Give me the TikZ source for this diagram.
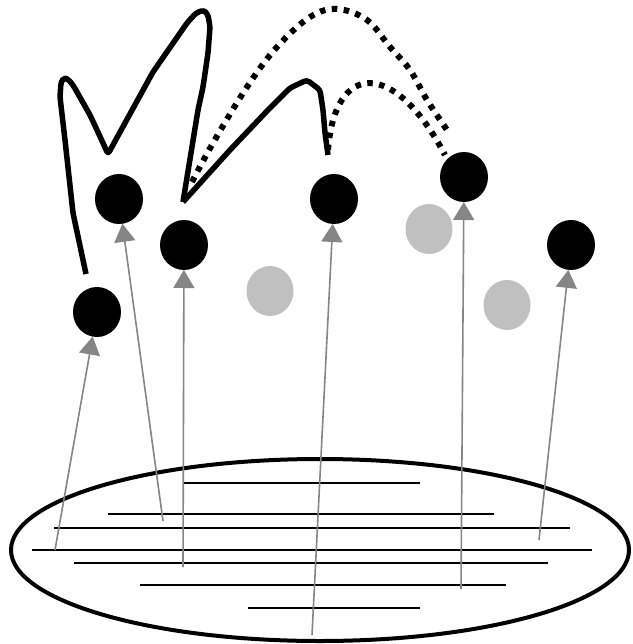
\documentclass[tikz,border=0pt]{standalone}
\usetikzlibrary{arrows.meta,shapes.geometric}
\definecolor{nodegray}{HTML}{C0C0C0}
\definecolor{arrgray}{HTML}{858585}
\begin{document}
\begin{tikzpicture}[x=1pt,y=-1pt,
  blk/.style={ellipse,fill=black,minimum width=48pt,minimum height=50pt,inner sep=0pt,outer sep=0pt},
  gry/.style={ellipse,fill=nodegray,minimum width=47pt,minimum height=50pt,inner sep=0pt},
  arr/.style={draw=arrgray,line width=1.6pt,-{Triangle[length=18pt,width=21pt]},fill=arrgray},
  hline/.style={line width=1.8pt},
  thick path/.style={line width=5.5pt,line join=round,rounded corners=3pt},
  dots/.style={line width=6pt,dash pattern=on 5.5pt off 6.5pt}]
\useasboundingbox (0,0) rectangle (632,644);
% base ellipse
\draw[line width=4pt] (320,550) ellipse [x radius=309pt, y radius=91pt];
\draw[hline] (183,483) -- (420,483);
\draw[hline] (108,514) -- (494,514);
\draw[hline] (54,528) -- (570,528);
\draw[hline] (32,550) -- (592,550);
\draw[hline] (74,563) -- (548,563);
\draw[hline] (140,585) -- (506,585);
\draw[hline] (248,608) -- (420,608);
% gray nodes
\node[gry] (g1) at (270,291) {};
\node[gry] (g2) at (429,229) {};
\node[gry] (g3) at (507,305) {};
% black nodes
\node[blk] (A) at (119,199) {};
\node[blk] (B) at (184,245) {};
\node[blk] (C) at (97,312) {};
\node[blk] (D) at (334,199) {};
\node[blk] (E) at (464,177) {};
\node[blk] (F) at (571,245) {};
% arrow starts
\coordinate (s1) at (55,550);
\coordinate (s2) at (163,521);
\coordinate (s3) at (183,567);
\coordinate (s4) at (312,635);
\coordinate (s5) at (461,589);
\coordinate (s6) at (539,540);
\draw[arr] (s1) -- (C);
\draw[arr] (s2) -- (A);
\draw[arr] (s3) -- (B);
\draw[arr] (s4) -- (D);
\draw[arr] (s5) -- (E);
\draw[arr] (s6) -- (F);
% thick solid strokes
\draw[thick path] (86,274) -- (73,213) -- (65,140) -- (60,97) -- (61,82) -- (64,78) -- (68,79) -- (73,85) -- (90,115) -- (97,130) -- (108,154) -- (153,72) -- (187,23) -- (196,13) -- (204,10) -- (208,15) -- (210,27) -- (208,53) -- (203,87) -- (198,110) -- (183,202);
\draw[thick path] (183,202) -- (230,150) -- (268,110) -- (290,88) -- (307,80) -- (320,90) -- (323,110) -- (325,133) -- (328,155);
% dotted arcs
\draw[dots] plot[smooth,tension=0.6] coordinates {(192,182) (213,143) (247,87) (277,47) (310,17) (337,9) (367,20) (390,47) (410,70) (427,100) (447,130)};
\draw[dots] (328,150) .. controls (335,60) and (395,60) .. (445,155);
\end{tikzpicture}
\end{document}
